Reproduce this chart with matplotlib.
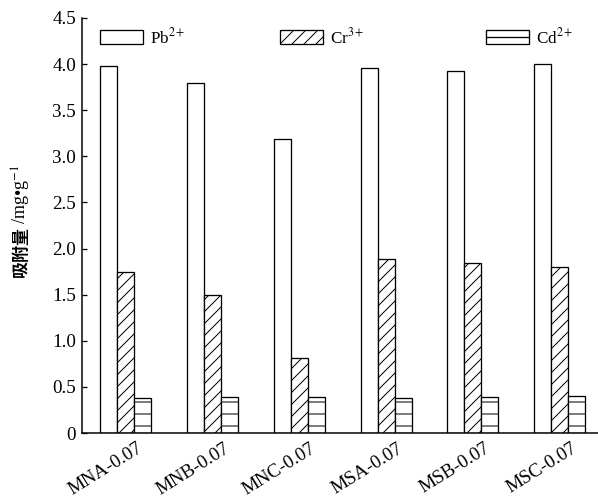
import matplotlib
matplotlib.use("Agg")
import matplotlib.pyplot as plt
import matplotlib.transforms as mtransforms
from matplotlib.patches import Patch
from matplotlib.lines import Line2D
from matplotlib.legend import Legend
from matplotlib.legend_handler import HandlerTuple
import numpy as np

categories = ["MNA-0.07", "MNB-0.07", "MNC-0.07", "MSA-0.07", "MSB-0.07", "MSC-0.07"]
pb = [3.98, 3.80, 3.19, 3.96, 3.92, 4.00]
cr = [1.75, 1.50, 0.81, 1.89, 1.84, 1.80]
cd = [0.38, 0.39, 0.39, 0.38, 0.39, 0.40]
yticks = [0, 0.5, 1.0, 1.5, 2.0, 2.5, 3.0, 3.5, 4.0, 4.5]
ytick_labels = ["0", "0.5", "1.0", "1.5", "2.0", "2.5", "3.0", "3.5", "4.0", "4.5"]
series_labels = ['Pb$^{2+}$', 'Cr$^{3+}$', 'Cd$^{2+}$']

plt.rcParams['mathtext.fontset'] = 'stix'
plt.rcParams['hatch.linewidth'] = 1.0
plt.rcParams['font.family'] = ['Liberation Serif', 'DejaVu Serif']

fig = plt.figure(figsize=(598/72, 504/72), dpi=72)
ax = fig.add_axes([82/598, 1-433/504, 516/598, (433-18)/504])

x = np.arange(len(categories))
w = 0.196
ax.bar(x - w, pb, w, facecolor='white', edgecolor='black', linewidth=1.3)
ax.bar(x, cr, w, facecolor='white', edgecolor='black', linewidth=1.3, hatch='//')
ax.bar(x + w, cd, w, facecolor='white', edgecolor='black', linewidth=1.3, hatch='-')

ax.set_xlim(-0.5, 5.44)
ax.set_ylim(0, 4.5)
ax.set_yticks(yticks)
ax.set_yticklabels(ytick_labels, fontsize=19)
ax.tick_params(axis='y', direction='in', length=5, width=1.3, pad=6)
ax.set_xticks(x)
ax.set_xticklabels(categories, fontsize=19, rotation=32, ha='right', va='top', rotation_mode='anchor')
ax.tick_params(axis='x', length=0, pad=7)
offset = mtransforms.ScaledTranslation(11/72, 0, fig.dpi_scale_trans)
for lab in ax.get_xticklabels():
    lab.set_transform(lab.get_transform() + offset)

for s in ['top', 'right']:
    ax.spines[s].set_visible(False)
for s in ['left', 'bottom']:
    ax.spines[s].set_linewidth(1.5)

# y label: bold CJK part + serif unit part
ymid = 1 - 226/504
fig.text(21/598, ymid, '吸附量', rotation=90, fontsize=17, fontweight='bold',
         family=['Noto Sans CJK SC', 'DejaVu Sans'], ha='center', va='top')
fig.text(21/598, ymid + 2/504, '/mg•g$^{-1}$', rotation=90, fontsize=18,
         ha='center', va='bottom')

handles = [Patch(facecolor='white', edgecolor='black', linewidth=1.3),
           Patch(facecolor='white', edgecolor='black', linewidth=1.3, hatch='//'),
           (Patch(facecolor='white', edgecolor='black', linewidth=1.3),
            Line2D([], [], color='black', linewidth=1.3))]
xpos = [(100-82)/516, (280-82)/516, (486-82)/516]
for h, l, xp in zip(handles, series_labels, xpos):
    leg = Legend(ax, [h], [l], loc='upper left', bbox_to_anchor=(xp, (433-27)/415),
                 frameon=False, fontsize=17, handlelength=2.5, handleheight=0.9,
                 borderpad=0, borderaxespad=0, handletextpad=0.45,
                 handler_map={tuple: HandlerTuple(ndivide=1)})
    ax.add_artist(leg)

fig.savefig('out.png', dpi=72)
